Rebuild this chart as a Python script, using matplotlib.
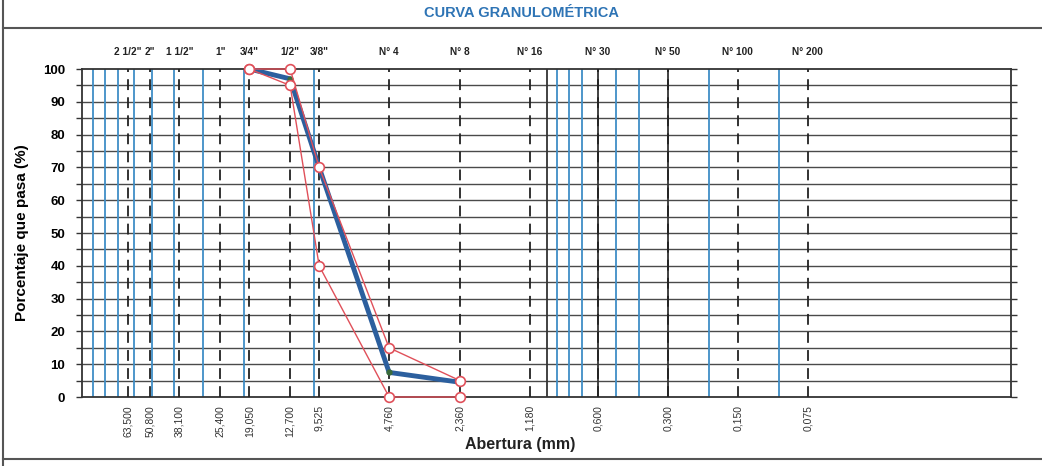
import matplotlib
matplotlib.use('Agg')
import matplotlib.pyplot as plt
import matplotlib.transforms as mtransforms
from matplotlib.lines import Line2D

plt.rcParams['font.family'] = ['Liberation Sans', 'DejaVu Sans']

# tamices
sieve_names = ['2 1/2"', '2"', '1 1/2"', '1"', '3/4"', '1/2"', '3/8"',
               'N° 4', 'N° 8', 'N° 16', 'N° 30', 'N° 50', 'N° 100', 'N° 200']
sieve_mm = [63.5, 50.8, 38.1, 25.4, 19.05, 12.7, 9.525,
            4.76, 2.36, 1.18, 0.6, 0.3, 0.15, 0.075]
sieve_labels = ['63,500', '50,800', '38,100', '25,400', '19,050', '12,700', '9,525',
                '4,760', '2,360', '1,180', '0,600', '0,300', '0,150', '0,075']

# lineas del papel logaritmico
grid_blue = [90, 80, 70, 60, 50, 40, 30, 20, 10,
             0.9, 0.8, 0.7, 0.5, 0.4, 0.2, 0.1]
grid_black = [1.0, 0.6, 0.3]

# curva de la muestra
muestra_mm = [19.05, 12.7, 9.525, 4.76, 2.36]
muestra_pasa = [100, 97, 70, 7.5, 4.5]

# limites del huso
huso_mm = [19.05, 12.7, 9.525, 4.76, 2.36]
huso_sup = [100, 100, 70, 15, 5]
huso_inf = [100, 95, 40, 0, 0]

fig = plt.figure(figsize=(10.42, 4.66), dpi=100)
ax = fig.add_axes([82 / 1042, 1 - 397 / 466, (1011 - 82) / 1042, 328 / 466])

ax.set_xscale('log')
ax.set_xlim(100, 0.01)
ax.set_ylim(0, 100)

for y in range(5, 100, 5):
    ax.axhline(y, color='#4a4a4a', lw=1.0, zorder=1)
for x in grid_blue:
    ax.axvline(x, color='#3f8ec6', lw=1.3, zorder=2)
for x in grid_black:
    ax.axvline(x, color='#333333', lw=1.3, zorder=2)
for x in sieve_mm:
    ax.axvline(x, color='#222222', lw=1.3, ls=(0, (6, 4)), zorder=3)

ax.plot(muestra_mm, muestra_pasa, color='#2c5f9e', lw=3.5, marker='o', ms=3.5,
        mfc='#3a6b3a', mec='#3a6b3a', zorder=4, clip_on=False)
ax.plot(huso_mm, huso_sup, color='#e0505a', lw=1.0, marker='o', ms=7,
        mfc='white', mec='#e0505a', mew=1.2, zorder=5, clip_on=False)
ax.plot(huso_mm, huso_inf, color='#e0505a', lw=1.0, marker='o', ms=7,
        mfc='white', mec='#e0505a', mew=1.2, zorder=5, clip_on=False)

ax.set_xticks([])
ax.set_xticks([], minor=True)
ax.set_yticks(range(0, 101, 10))
ax.set_yticks(range(0, 101, 5), minor=True)
ax.tick_params(axis='y', which='both', length=4, width=1, color='#333333',
               labelsize=9.5, pad=8, right=True)
for lab in ax.get_yticklabels():
    lab.set_fontweight('bold')
for s in ax.spines.values():
    s.set_color('#333333')
    s.set_linewidth(1.3)

trans = mtransforms.blended_transform_factory(ax.transData, ax.transAxes)
for x, name, lab in zip(sieve_mm, sieve_names, sieve_labels):
    ax.text(x, 1.052, name, transform=trans, ha='center', va='center',
            fontsize=7.3, fontweight='bold', color='#222222')
    ax.text(x, -0.025, lab, transform=trans, ha='center', va='top',
            rotation=90, fontsize=7.5, color='#333333')

ax.set_ylabel('Porcentaje que pasa (%)', fontsize=11, fontweight='bold',
              labelpad=10)
fig.text(520 / 1042, 1 - 445 / 466, 'Abertura (mm)', ha='center', va='center',
         fontsize=11.5, fontweight='bold', color='#222222')

fig.text(521 / 1042, 1 - 13 / 466, 'CURVA GRANULOMÉTRICA', ha='center',
         va='center', fontsize=10.5, fontweight='bold', color='#2e74b5')

# marco de la hoja
fig.add_artist(Line2D([3 / 1042, 3 / 1042], [0, 1], color='#555555', lw=1.5))
fig.add_artist(Line2D([3 / 1042, 1], [1 - 28 / 466, 1 - 28 / 466],
                      color='#555555', lw=1.5))
fig.add_artist(Line2D([3 / 1042, 1], [1 - 459 / 466, 1 - 459 / 466],
                      color='#555555', lw=1.5))

fig.savefig('out.png', dpi=100, facecolor='white')
